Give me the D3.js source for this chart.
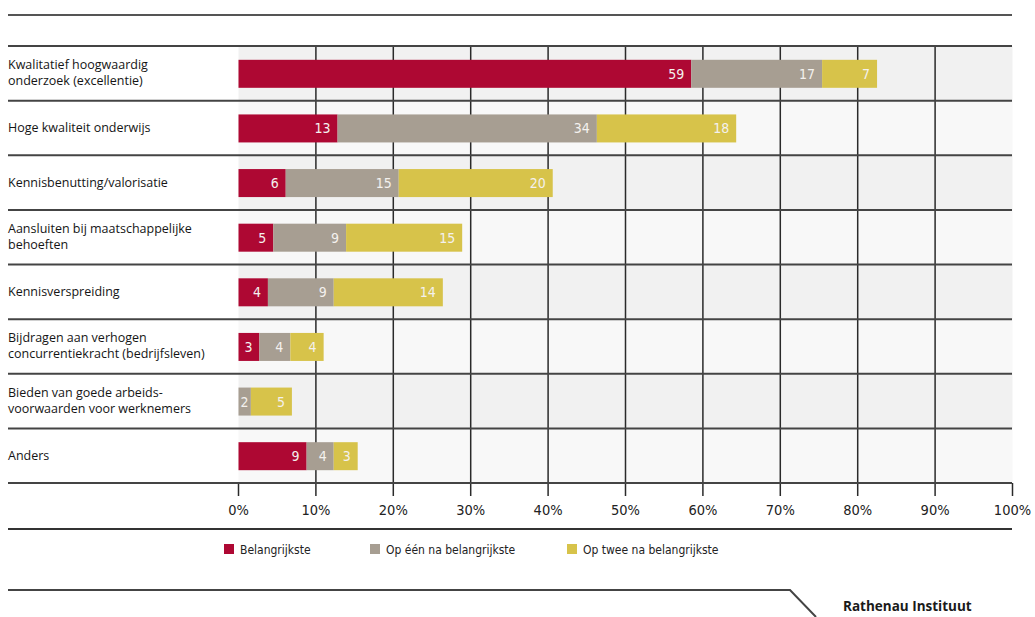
<!DOCTYPE html>
<html>
<head>
<meta charset="utf-8">
<script src="https://cdn.jsdelivr.net/npm/d3@7"></script>
<style>
  body { margin: 0; background: #fff; }
  svg { display: block; }
</style>
</head>
<body>
<div id="chart"></div>
<script>
// categories (each label split into its printed lines)
const categories = [
  ["Kwalitatief hoogwaardig", "onderzoek (excellentie)"],
  ["Hoge kwaliteit onderwijs"],
  ["Kennisbenutting/valorisatie"],
  ["Aansluiten bij maatschappelijke", "behoeften"],
  ["Kennisverspreiding"],
  ["Bijdragen aan verhogen", "concurrentiekracht (bedrijfsleven)"],
  ["Bieden van goede arbeids-", "voorwaarden voor werknemers"],
  ["Anders"]
]
const seriesNames = ["Belangrijkste", "Op één na belangrijkste", "Op twee na belangrijkste"]
// percentages (labels show them rounded)
const first  = [58.5, 12.8, 6.1, 4.5, 3.8, 2.7, 0, 8.8]
const second = [16.9, 33.5, 14.6, 9.4, 8.5, 4.0, 1.6, 3.5]
const third  = [7.1, 18.0, 19.9, 15.0, 14.1, 4.3, 5.3, 3.1]
const ticks = [0, 10, 20, 30, 40, 50, 60, 70, 80, 90, 100]

const width = 1035
const height = 617
const colors = ["#ae0833", "#a79e92", "#d7c34a"]

const svg = d3.select("#chart").append("svg")
    .attr("width", width)
    .attr("height", height)

const x = d3.scaleLinear().domain([0, 100]).range([238.5, 1012.5])
const y = d3.scaleBand().domain(d3.range(categories.length)).range([46, 483])

// stacked data
const rows = categories.map((c, i) => ({i: i, vals: [first[i], second[i], third[i]]}))
const stack = d3.stack().keys([0, 1, 2]).value((d, k) => d.vals[k])
const series = stack(rows)

// row backgrounds (alternating)
svg.append("g").selectAll("rect")
  .data(rows)
  .join("rect")
    .attr("x", x(0))
    .attr("y", d => y(d.i))
    .attr("width", x(100) - x(0))
    .attr("height", y.bandwidth())
    .attr("fill", d => d.i % 2 === 0 ? "#f1f1f1" : "#f8f8f8")

// vertical grid lines + axis ticks
svg.append("g").selectAll("line")
  .data(ticks)
  .join("line")
    .attr("x1", d => x(d)).attr("x2", d => x(d))
    .attr("y1", d => (d === 0 || d === 100) ? 483 : 46)
    .attr("y2", 496)
    .attr("stroke", "#2a2a2a")
    .attr("stroke-width", 1.5)

// top rule
svg.append("line")
  .attr("x1", 8).attr("x2", 1012).attr("y1", 15).attr("y2", 15)
  .attr("stroke", "#555").attr("stroke-width", 2)

// row separators
svg.append("g").selectAll("line")
  .data(d3.range(categories.length + 1))
  .join("line")
    .attr("x1", 8)
    .attr("x2", 1012)
    .attr("y1", d => d === categories.length ? 483 : y(d))
    .attr("y2", d => d === categories.length ? 483 : y(d))
    .attr("stroke", "#444")
    .attr("stroke-width", 2)

// bars
const barH = 28
const seg = svg.append("g").selectAll("g")
  .data(series)
  .join("g")
    .attr("fill", (d, k) => colors[k])

seg.selectAll("rect")
  .data(d => d)
  .join("rect")
    .attr("x", d => x(d[0]))
    .attr("y", d => y(d.data.i) + (y.bandwidth() - barH) / 2 + 0.5)
    .attr("width", d => x(d[1]) - x(d[0]))
    .attr("height", barH)

// value labels inside segments
const vlab = svg.append("g")
    .style("font-family", "'DejaVu Sans Condensed', 'Roboto', sans-serif")
    .style("font-size", "14px")
    .attr("fill", "#f4f1ee")

series.forEach((s, k) => {
  s.forEach(d => {
    const v = d[1] - d[0]
    if (v <= 0) return
    const t = vlab.append("text")
      .attr("y", y(d.data.i) + y.bandwidth() / 2 + 5.5)
      .attr("text-anchor", "end")
      .text(Math.round(v))
    const w = t.node().getComputedTextLength()
    const xr = Math.max(x(d[1]) - 7, x(d[0]) + w + 2)
    t.attr("x", xr)
  })
})

// category labels
const lab = svg.append("g")
    .style("font-family", "'Open Sans', sans-serif")
    .style("font-size", "12.5px")
    .attr("fill", "#151515")

categories.forEach((lines, i) => {
  const cy = y(i) + y.bandwidth() / 2
  const t = lab.append("text")
    .attr("x", 8)
    .attr("y", cy - (lines.length - 1) * 8 + 4)
  lines.forEach((ln, j) => {
    t.append("tspan").attr("x", 8).attr("dy", j === 0 ? 0 : 16).text(ln)
  })
})

// x axis tick labels
svg.append("g").selectAll("text")
  .data(ticks)
  .join("text")
    .attr("x", d => x(d))
    .attr("y", 515)
    .attr("text-anchor", "middle")
    .style("font-family", "'DejaVu Sans Condensed', 'Roboto', sans-serif")
    .style("font-size", "14.5px")
    .attr("fill", "#222")
    .text(d => d + "%")

// rule under the axis
svg.append("line")
  .attr("x1", 8).attr("x2", 1012).attr("y1", 529).attr("y2", 529)
  .attr("stroke", "#333").attr("stroke-width", 2)

// legend
const legX = [224, 370, 567]
const leg = svg.append("g").selectAll("g")
  .data(seriesNames)
  .join("g")
    .attr("transform", (d, k) => `translate(${legX[k]},544)`)
leg.append("rect")
    .attr("width", 10).attr("height", 10)
    .attr("fill", (d, k) => colors[k])
leg.append("text")
    .attr("x", 16).attr("y", 10)
    .style("font-family", "'DejaVu Sans Condensed', 'Roboto', sans-serif")
    .style("font-size", "12px")
    .attr("fill", "#222")
    .text(d => d)

// footer
svg.append("path")
  .attr("d", "M8,590 L790,590 L816,617")
  .attr("fill", "none")
  .attr("stroke", "#444")
  .attr("stroke-width", 2)

svg.append("text")
  .attr("x", 843).attr("y", 611)
  .style("font-family", "'Open Sans', sans-serif")
  .style("font-size", "13.5px")
  .style("font-weight", "bold")
  .attr("fill", "#1a1a1a")
  .text("Rathenau Instituut")
</script>
</body>
</html>
